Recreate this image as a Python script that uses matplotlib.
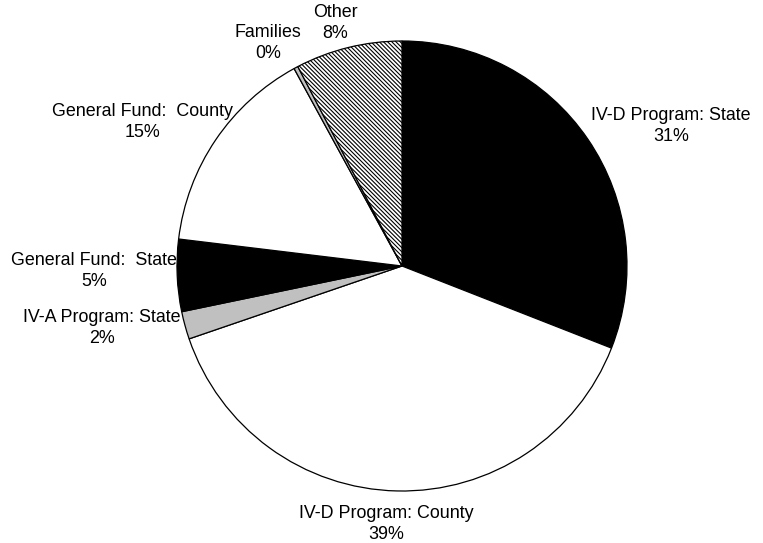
import matplotlib.pyplot as plt
import numpy as np

plt.rcParams['font.family'] = ['Liberation Sans', 'DejaVu Sans']
plt.rcParams['hatch.linewidth'] = 0.8

names = ['IV-D Program: State', 'IV-D Program: County', 'IV-A Program: State',
         'General Fund:  State', 'General Fund:  County', 'Families', 'Other']
values = [31.1, 39.0, 2.0, 5.2, 15.2, 0.3, 7.7]
colors = ['black', 'white', '#c0c0c0', 'black', 'white', '#c0c0c0', 'white']
hatches = [None, None, None, None, None, None, '\\' * 8]

# label anchor positions (pixels, y up)
label_pos = [(671, 417), (386, 19), (102, 215), (94, 272), (142, 421), (268, 500), (335, 520)]

fig = plt.figure(figsize=(7.63, 5.43), dpi=100)
ax = fig.add_axes([0, 0, 1, 1])

wedges, _ = ax.pie(values, colors=colors, startangle=90, counterclock=False,
                   center=(402, 277), radius=225,
                   wedgeprops=dict(edgecolor='black', linewidth=0.9))
for w, h in zip(wedges, hatches):
    if h:
        w.set_hatch(h)

ax.set_xlim(0, 763)
ax.set_ylim(0, 543)
ax.set_aspect('equal')
ax.axis('off')

total = sum(values)
for n, v, p in zip(names, values, label_pos):
    pct = int(round(100 * v / total))
    ax.text(p[0], p[1], n + '\n' + str(pct) + '%', ha='center', va='center',
            fontsize=12.9, linespacing=1.25)

fig.savefig('out.png', dpi=100)
